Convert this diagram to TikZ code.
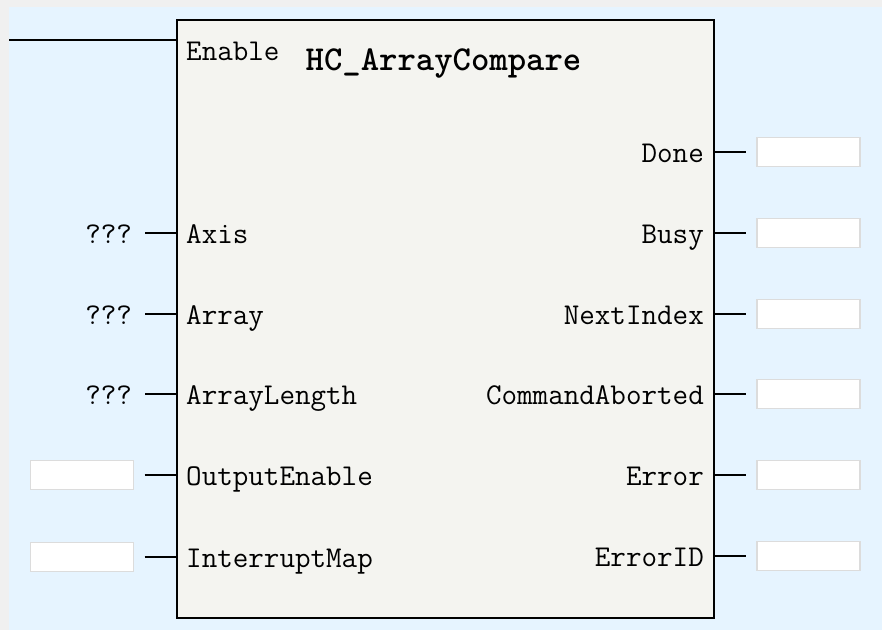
\documentclass[tikz,border=0pt]{standalone}
\usepackage{fontspec}
\usepackage{xcolor}
\usepackage{tikz}
\usetikzlibrary{positioning}
\definecolor{bgblue}{RGB}{230,244,255}
\definecolor{outergray}{RGB}{240,240,240}
\definecolor{fbfill}{RGB}{244,244,240}
\definecolor{boxedge}{RGB}{220,220,220}
\tikzset{
    fblock/.style={rectangle, draw=black, line width=2pt, fill=fbfill, minimum width=537pt, minimum height=598pt, inner sep=0pt},
    pinin/.style={anchor=base west, inner sep=0pt, font=\ttfamily\fontsize{30.2}{32}\selectfont},
    pinout/.style={anchor=base east, inner sep=0pt, font=\ttfamily\fontsize{30.2}{32}\selectfont},
    qmark/.style={anchor=base east, inner sep=0pt, outer xsep=13pt, font=\ttfamily\fontsize{30.2}{32}\selectfont},
    valbox/.style={rectangle, draw=boxedge, line width=1.5pt, fill=white, minimum width=103pt, minimum height=29pt, inner sep=0pt, outer xsep=11pt},
    wire/.style={line width=1.8pt}
}

\begin{document}
\begin{tikzpicture}[x=1pt, y=-1pt]
    % window background
    \fill [outergray] (0,0) rectangle (882,630);
    \fill [bgblue] (9,7) rectangle (882,630);
    \useasboundingbox (0,0) rectangle (882,630);

    % function block
    \node (fb) [fblock] at (445.5,319) {};
    \node (title) [anchor=base, inner sep=0pt, font=\ttfamily\bfseries\fontsize{35}{37}\selectfont] at (443.5,70) {HC\_ArrayCompare};

    % enable rail
    \coordinate (rail) at (9,40);
    \node (enable) [pinin] at (186,60) {Enable};
    \draw [wire] (rail) -- (rail -| fb.west);

    % inputs
    \node (axis) [pinin] at (186,243) {Axis};
    \node (array) [pinin] at (186,324) {Array};
    \node (arraylen) [pinin] at (186,404) {ArrayLength};
    \node (outen) [pinin] at (186,485) {OutputEnable};
    \node (intmap) [pinin] at (186,567) {InterruptMap};

    \node (axisq) [qmark] at (145,243) {???};
    \node (arrayq) [qmark] at (145,324) {???};
    \node (arraylenq) [qmark] at (145,404) {???};
    \node (outenbox) [valbox] at (82,475) {};
    \node (intmapbox) [valbox] at (82,557) {};

    \draw [wire] (axisq.east |- 0,233) -- (fb.west |- 0,233);
    \draw [wire] (arrayq.east |- 0,314) -- (fb.west |- 0,314);
    \draw [wire] (arraylenq.east |- 0,394) -- (fb.west |- 0,394);
    \draw [wire] (outenbox) -- (outenbox -| fb.west);
    \draw [wire] (intmapbox) -- (intmapbox -| fb.west);

    % outputs
    \node (done) [pinout] at (704,162) {Done};
    \node (busy) [pinout] at (704,243) {Busy};
    \node (nextidx) [pinout] at (704,324) {NextIndex};
    \node (cmdabort) [pinout] at (704,404) {CommandAborted};
    \node (err) [pinout] at (704,485) {Error};
    \node (errid) [pinout] at (704,566) {ErrorID};

    \node (donebox) [valbox] at (808.5,152) {};
    \node (busybox) [valbox] at (808.5,233) {};
    \node (nextidxbox) [valbox] at (808.5,314) {};
    \node (cmdabortbox) [valbox] at (808.5,394) {};
    \node (errbox) [valbox] at (808.5,475) {};
    \node (erridbox) [valbox] at (808.5,556) {};

    \draw [wire] (donebox -| fb.east) -- (donebox);
    \draw [wire] (busybox -| fb.east) -- (busybox);
    \draw [wire] (nextidxbox -| fb.east) -- (nextidxbox);
    \draw [wire] (cmdabortbox -| fb.east) -- (cmdabortbox);
    \draw [wire] (errbox -| fb.east) -- (errbox);
    \draw [wire] (erridbox -| fb.east) -- (erridbox);
\end{tikzpicture}
\end{document}
